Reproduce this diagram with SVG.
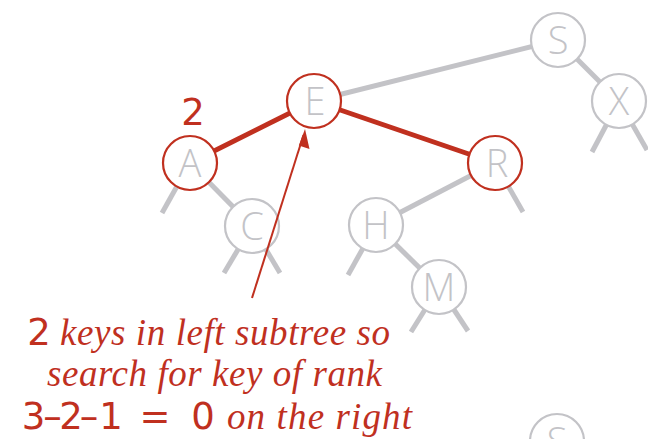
<svg xmlns="http://www.w3.org/2000/svg" width="648" height="439" viewBox="0 0 648 439">
<defs>
<style>
.g{stroke:#c3c3c7;stroke-width:5;fill:none}
.r{stroke:#c0301f;stroke-width:5;fill:none}
.nd circle{fill:#fff;stroke:#c3c3c7;stroke-width:2.2}
.nd.hl circle{stroke:#c0301f}
.nd text{font-family:"Open Sans","DejaVu Sans",sans-serif;font-weight:300;font-size:38px;fill:#c3c3c7;text-anchor:middle}
.lab{fill:#c0301f}
.num{font-family:"DejaVu Sans","Open Sans",sans-serif;font-size:37px;text-anchor:middle}
.it{font-family:"Liberation Serif",serif;font-style:italic;font-size:37px}
</style>
</defs>
<g id="connectors">
<line class="g" x1="314" y1="101" x2="558" y2="40"/>
<line class="g" x1="558" y1="40" x2="619" y2="101"/>
<line class="g" x1="619" y1="101" x2="592" y2="152"/>
<line class="g" x1="619" y1="101" x2="647" y2="150"/>
<line class="g" x1="495" y1="163" x2="376" y2="225"/>
<line class="g" x1="495" y1="163" x2="523" y2="212"/>
<line class="g" x1="190" y1="163" x2="252" y2="226"/>
<line class="g" x1="190" y1="163" x2="162" y2="213"/>
<line class="g" x1="252" y1="226" x2="224" y2="273"/>
<line class="g" x1="252" y1="226" x2="280" y2="273"/>
<line class="g" x1="376" y1="225" x2="439" y2="287"/>
<line class="g" x1="376" y1="225" x2="348" y2="275"/>
<line class="g" x1="439" y1="287" x2="411" y2="332"/>
<line class="g" x1="439" y1="287" x2="468" y2="331"/>
<line class="r" x1="190" y1="163" x2="314" y2="101"/>
<line class="r" x1="314" y1="101" x2="495" y2="163"/>
</g>
<g id="node-S" class="nd"><circle cx="558" cy="40" r="27"/><text x="558" y="53.5">S</text></g>
<g id="node-X" class="nd"><circle cx="619" cy="101" r="27"/><text x="619" y="114.5">X</text></g>
<g id="node-E" class="nd hl"><circle cx="314" cy="101" r="27"/><text x="315" y="114.5">E</text></g>
<g id="node-A" class="nd hl"><circle cx="190" cy="163" r="27"/><text x="190" y="176.5">A</text></g>
<g id="node-R" class="nd hl"><circle cx="495" cy="163" r="27"/><text x="497" y="176.5">R</text></g>
<g id="node-C" class="nd"><circle cx="252" cy="226" r="27"/><text x="252" y="239.5">C</text></g>
<g id="node-H" class="nd"><circle cx="376" cy="225" r="27"/><text x="376" y="238.5">H</text></g>
<g id="node-M" class="nd"><circle cx="439" cy="287" r="27"/><text x="439" y="300.5">M</text></g>
<g id="node-S2" class="nd"><circle cx="557" cy="441" r="27"/><text x="557" y="454.5">S</text></g>
<g id="arrow">
<line x1="252" y1="298" x2="303.5" y2="135" stroke="#c0301f" stroke-width="2"/>
<path d="M305,129 L309.5,149 L298.8,145.6 z" fill="#c0301f"/>
</g>
<g id="labels" class="lab">
<text class="num" x="193" y="125">2</text>
<text y="345"><tspan class="num" x="39">2</tspan><tspan class="it" x="60" textLength="330" lengthAdjust="spacing">keys in left subtree so</tspan></text>
<text class="it" x="47" y="386" textLength="335" lengthAdjust="spacing">search for key of rank</text>
<text y="429"><tspan class="num" x="33.5 52.5 71 89 111 155 203">3–2–1=0</tspan><tspan class="it" x="227" textLength="185" lengthAdjust="spacing">on the right</tspan></text>
</g>
</svg>
